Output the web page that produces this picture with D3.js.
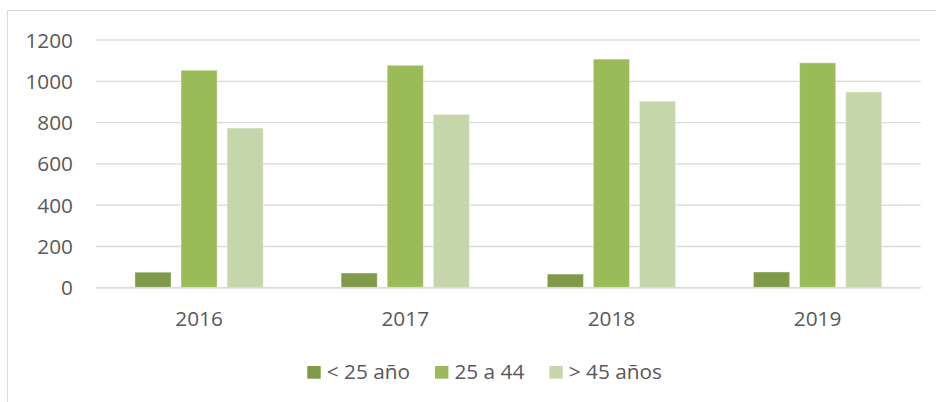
<!DOCTYPE html>
<html>
<head>
<meta charset="utf-8">
<script src="https://cdn.jsdelivr.net/npm/d3@7"></script>
<style>
  html, body { margin: 0; padding: 0; background: #fff; }
  svg { display: block; }
  text { font-family: "Open Sans", "Liberation Sans", sans-serif; fill: #595959; }
</style>
</head>
<body>
<svg id="chart" width="936" height="402"></svg>
<script>
const years = ["2016", "2017", "2018", "2019"];
const seriesNames = ["< 25 año", "25 a 44", "> 45 años"];
const under25 = [73, 69, 64, 74];
const from25to44 = [1051, 1075, 1105, 1087];
const over45 = [771, 837, 901, 946];
const yTicks = [0, 200, 400, 600, 800, 1000, 1200];
const colors = ["#7f9a48", "#9bbb59", "#c6d6ab"];

const seriesValues = [under25, from25to44, over45];
const data = years.map((y, i) => ({
  year: y,
  values: seriesNames.map((s, j) => ({ key: s, value: seriesValues[j][i], idx: j }))
}));

const FS = 20.8;
const svg = d3.select("#chart");

// chart area border (top and left visible)
svg.append("rect")
  .attr("x", 7.5).attr("y", 10.5)
  .attr("width", 940).attr("height", 400)
  .attr("fill", "none").attr("stroke", "#d9d9d9").attr("stroke-width", 1);

const plotLeft = 96, plotRight = 920.7, plotTop = 39.5, plotBottom = 287.3;

const y = d3.scaleLinear().domain([0, 1200]).range([plotBottom, plotTop]);
const x0 = d3.scaleBand().domain(years).range([plotLeft, plotRight])
  .paddingInner(0.378).paddingOuter(0.189);
const x1 = d3.scaleBand().domain(seriesNames).range([0, x0.bandwidth()])
  .paddingInner(0.217).paddingOuter(0);

// y axis with gridlines
const yAxis = svg.append("g")
  .attr("transform", `translate(${plotLeft},0)`)
  .call(d3.axisLeft(y).tickValues(yTicks).tickFormat(d3.format("d"))
    .tickSize(-(plotRight - plotLeft)).tickPadding(23));
yAxis.select(".domain").remove();
yAxis.selectAll(".tick line").attr("stroke", "#d9d9d9").attr("stroke-width", 1.3);
yAxis.selectAll(".tick text")
  .attr("font-size", FS).attr("fill", "#595959").attr("dy", "0.36em")
  .style("font-family", '"Open Sans", sans-serif');

// bars
const groups = svg.append("g").selectAll("g")
  .data(data).join("g")
  .attr("transform", d => `translate(${x0(d.year)},0)`);
groups.selectAll("rect")
  .data(d => d.values).join("rect")
  .attr("x", d => x1(d.key))
  .attr("y", d => y(d.value))
  .attr("width", x1.bandwidth())
  .attr("height", d => y(0) - y(d.value))
  .attr("fill", d => colors[d.idx])
  .attr("stroke", "rgba(255,255,255,0.35)")
  .attr("stroke-width", 1);

// x axis
const xAxis = svg.append("g")
  .attr("transform", `translate(0,${plotBottom})`)
  .call(d3.axisBottom(x0).tickSize(0).tickPadding(0));
xAxis.select(".domain").attr("stroke", "#d9d9d9").attr("stroke-width", 1.3)
  .attr("d", `M${plotLeft},0.5H${plotRight}`);
xAxis.selectAll(".tick text")
  .attr("font-size", FS).attr("fill", "#595959")
  .attr("dy", null).attr("y", 38.8)
  .style("font-family", '"Open Sans", sans-serif');

// legend
const legend = svg.append("g").attr("transform", "translate(307.3,0)");
let cx = 0;
seriesNames.forEach((name, i) => {
  const g = legend.append("g").attr("transform", `translate(${cx},0)`);
  g.append("rect").attr("x", 0).attr("y", 366).attr("width", 13.4).attr("height", 12.7)
    .attr("fill", colors[i]);
  const t = g.append("text").attr("x", 19.4).attr("y", 378.8)
    .attr("font-size", FS).attr("fill", "#595959").text(name);
  const w = t.node().getComputedTextLength();
  cx += 19.4 + w + 25;
});
</script>
</body>
</html>
